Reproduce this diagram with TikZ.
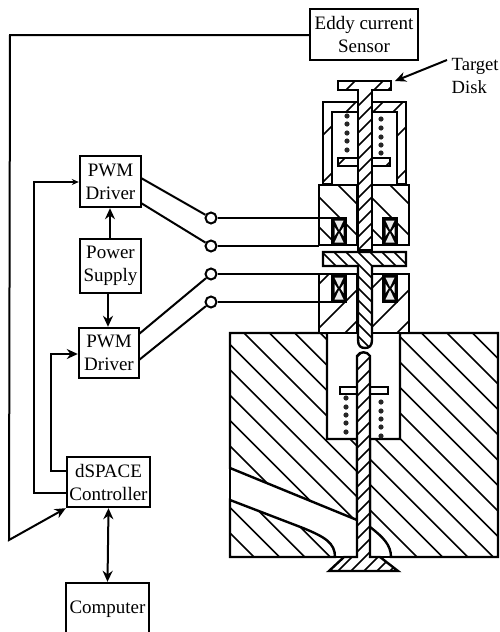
\documentclass[tikz,border=0pt]{standalone}
\usepackage{fontspec}
\setmainfont{Liberation Serif}
\usetikzlibrary{arrows.meta}
\tikzset{
  boxnode/.style={draw,line width=2.4pt,align=center,inner sep=0pt,font=\fontsize{19}{23}\selectfont},
  signal/.style={line width=2pt},
  hatchline/.style={line width=1.6pt},
  partline/.style={line width=2.4pt},
  terminal/.style={circle,draw,line width=2pt,fill=white,inner sep=0pt,minimum size=11pt},
  bighead/.style={-{Stealth[length=11pt,width=10pt]}},
  smallhead/.style={-{Stealth[length=7pt,width=6pt]}},
}
% hatched parts: outline, then list of line offsets
\newcommand{\hatchdown}[2]{%
  \fill[white] #1;
  \begin{scope}\clip #1;
  \foreach \c in {#2} \draw[hatchline] (\c,0) -- ({\c+700},700);
  \end{scope}
  \draw[partline] #1;}
\newcommand{\hatchup}[2]{%
  \fill[white] #1;
  \begin{scope}\clip #1;
  \foreach \c in {#2} \draw[hatchline] ({\c-700},700) -- (\c,0);
  \end{scope}
  \draw[partline] #1;}
\newcommand{\coilbox}[2]{%
  \fill[black] ({#1-1},{#2-1}) rectangle ({#1+15},{#2+28});
  \fill[black!8] ({#1+2.5},{#2+2.5}) -- ({#1+11.5},{#2+2.5}) -- ({#1+7},{#2+12}) -- cycle;
  \fill[black!8] ({#1+2.5},{#2+24.5}) -- ({#1+11.5},{#2+24.5}) -- ({#1+7},{#2+15}) -- cycle;
  \fill[white] ({#1+2.5},{#2+9}) -- ({#1+5.5},{#2+13.5}) -- ({#1+2.5},{#2+18}) -- cycle;
  \fill[white] ({#1+11.5},{#2+9}) -- ({#1+8.5},{#2+13.5}) -- ({#1+11.5},{#2+18}) -- cycle;}
\newcommand{\springdots}[6]{%
  \foreach \y in {#2,#3,#4,#5,#6} \fill[black!85] (#1,\y) circle (2.6);}
\begin{document}
\begin{tikzpicture}[x=1pt,y=-1pt]
\useasboundingbox (0,0) rectangle (499,632);
% lower body
\hatchdown{(230,333) -- (327,333) -- (327,439) -- (357,439) -- (357,520) -- (230,468) -- cycle}{-241.4,-216,...,0}
\hatchdown{(230,500) -- (303,528) .. controls (325,537) and (335,543) .. (335,557) -- (230,557) -- cycle}{-303,-277.6,...,-200}
\hatchdown{(370,439) -- (400,439) -- (400,333) -- (498,333) -- (498,557) -- (391,557) .. controls (391,545) and (383,537) .. (370,527) -- cycle}{-165.4,-140,...,170}
\draw[partline] (230,468) -- (230,500) (335,557) -- (357,557) (370,557) -- (391,557);
% spring housing
\hatchup{(323,184) -- (323,102) -- (406,102) -- (406,184) -- (397,184) -- (397,112) -- (332,112) -- (332,184) -- cycle}{458,505,533,576}
\draw[hatchline] (373,112) -- (383,102);
% actuator block
\hatchdown{(319,245) -- (319,185) -- (357,185) -- (357,245) -- cycle}{92,122,153}
\hatchdown{(372,245) -- (372,185) -- (409,185) -- (409,245) -- cycle}{143,174,205}
\hatchup{(319,274) -- (357,274) -- (357,333) -- (319,333) -- cycle}{603,647,678}
\hatchup{(372,274) -- (409,274) -- (409,333) -- (372,333) -- cycle}{660,699,730}
\coilbox{332}{218}
\coilbox{383}{218}
\coilbox{332}{275}
\coilbox{383}{275}
% springs and retainers
\springdots{347}{116}{124}{133}{141}{150}
\springdots{381}{119}{128}{137}{145}{153}
\springdots{346}{398}{407}{415}{423}{432}
\springdots{381}{402}{411}{419}{427}{436}
\hatchup{(338,158) rectangle (390,166)}{503,552}
\draw[partline,fill=white] (340,387) rectangle (388,394);
% stems
\hatchup{(338,81) -- (391,81) -- (391,90) -- (372,90) -- (372,250) -- (358,250) -- (358,90) -- (338,90) -- cycle}{436,464,478,491,...,630}
\hatchdown{(323,252) -- (406,252) -- (406,266) -- (372,266) -- (372,340) .. controls (372,346) and (369,348) .. (365,348) .. controls (361,348) and (358,346) .. (358,340) -- (358,266) -- (323,266) -- cycle}{10,22,...,160}
\hatchup{(357,356) .. controls (360,351) and (367,351) .. (370,356) -- (370,557) -- (380,557) -- (398,571) -- (329,571) -- (344,557) -- (357,557) -- cycle}{714,727,...,970}
% boxes
\node[boxnode,minimum width=108pt,minimum height=51pt] (sensor) at (364,34.5) {Eddy current\\Sensor};
\node[boxnode,minimum width=61pt,minimum height=51pt] (pwmone) at (110.5,181.5) {PWM\\Driver};
\node[boxnode,minimum width=61pt,minimum height=54pt] (power) at (110.5,266) {Power\\Supply};
\node[boxnode,minimum width=60pt,minimum height=50pt] (pwmtwo) at (109,353) {PWM\\Driver};
\node[boxnode,minimum width=83pt,minimum height=50pt] (ctrl) at (108.5,482) {dSPACE\\Controller};
\node[boxnode,minimum width=83pt,minimum height=53pt] (comp) at (107.5,609.5) {Computer};
\node[font=\fontsize{18.6}{23}\selectfont,align=left,inner sep=0pt,anchor=north west] (target) at (451.5,58) {Target\\Disk};
% terminals
\node[terminal] (ta) at (211,218) {};
\node[terminal] (tb) at (211,246) {};
\node[terminal] (tc) at (211,274) {};
\node[terminal] (td) at (211,302) {};
\coordinate (coila) at (332,218);
\coordinate (blockb) at (319,246);
\coordinate (coilc) at (332,274);
\coordinate (coild) at (332,302);
\draw[signal] (ta) -- (coila);
\draw[signal] (tb) -- (blockb);
\draw[signal] (tc) -- (coilc);
\draw[signal] (td) -- (coild);
\draw[signal] (141,178) -- (ta);
\draw[signal] (141,203) -- (tb);
\draw[signal] (139,334) -- (tc);
\draw[signal] (139,360) -- (td);
% power and signal lines
\draw[signal,bighead] (power.north -| 110,0) -- (pwmone.south -| 110,0);
\draw[signal,bighead] (power.south -| 108,0) -- (pwmtwo.north -| 108,0);
\draw[signal,{Stealth[length=11pt,width=10pt]}-{Stealth[length=11pt,width=10pt]}] (ctrl.south) -- (comp.north);
\coordinate (feeda) at (34,182);
\coordinate (feedb) at (51,354);
\draw[signal,smallhead] (ctrl.west |- 0,493) -- (34,493) -- (feeda) -- (feeda -| pwmone.west);
\draw[signal,bighead] (ctrl.west |- 0,471) -- (51,471) -- (feedb) -- (feedb -| pwmtwo.west);
\coordinate (corner) at (9,540);
\draw[signal,bighead] (sensor.west |- 0,35) -- (10,35) -- (corner) -- (ctrl.south west);
\coordinate (disktip) at (395,81);
\draw[signal,bighead] (447,60) -- (disktip);
\end{tikzpicture}
\end{document}
